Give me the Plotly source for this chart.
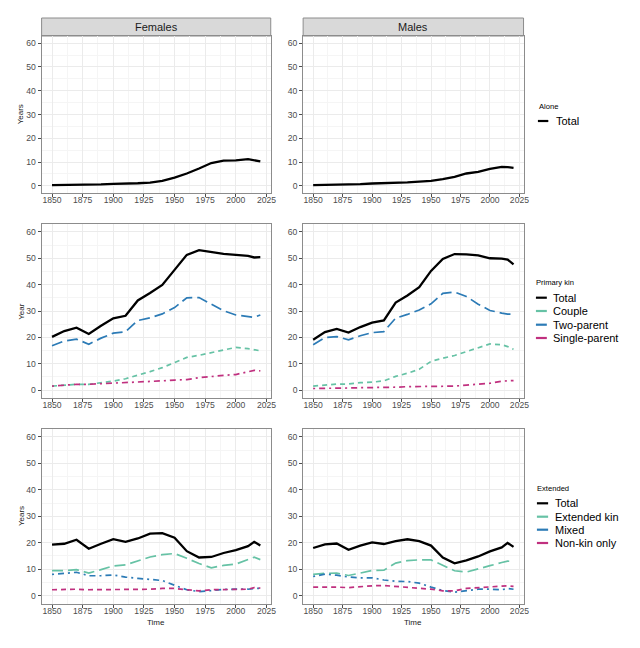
import plotly.graph_objects as go

years = [1850, 1860, 1870, 1880, 1890, 1900, 1910, 1920, 1930, 1940, 1950,
         1960, 1970, 1980, 1990, 2000, 2010, 2015, 2020]
sexes = ["Females", "Males"]
x_ticks = [1850, 1875, 1900, 1925, 1950, 1975, 2000, 2025]
y_ticks = [0, 10, 20, 30, 40, 50, 60]

# Row 1: Alone
alone_total_f = [0.3, 0.3, 0.4, 0.5, 0.6, 0.8, 0.8, 1.1, 1.4, 2.1, 3.5, 5.2, 7.3, 9.6, 10.6, 10.7, 11.2, 10.8, 10.3]
alone_total_m = [0.3, 0.35, 0.4, 0.5, 0.7, 1.0, 1.1, 1.3, 1.5, 1.8, 2.1, 2.8, 3.8, 5.2, 5.9, 7.1, 8.0, 7.9, 7.6]

# Row 2: Primary kin
prim_total_f = [20.2, 22.4, 23.7, 21.3, 24.4, 27.2, 28.2, 34.0, 36.8, 39.9, 45.6, 51.3, 53.1, 52.3, 51.7, 51.3, 50.9, 50.3, 50.4]
prim_couple_f = [1.5, 1.9, 2.2, 2.2, 2.8, 3.4, 4.3, 5.6, 7.0, 8.5, 10.5, 12.4, 13.2, 14.2, 15.4, 16.2, 15.7, 15.2, 14.9]
prim_two_f = [16.8, 18.6, 19.3, 17.4, 19.7, 21.6, 22.1, 26.4, 27.4, 28.9, 31.3, 35.0, 35.1, 32.7, 30.1, 28.5, 27.9, 27.6, 28.5]
prim_single_f = [1.5, 1.9, 2.2, 2.2, 2.4, 2.7, 2.8, 2.9, 3.2, 3.5, 3.8, 4.0, 4.7, 5.2, 5.6, 5.9, 7.1, 7.5, 7.3]

prim_total_m = [19.1, 22.0, 23.2, 21.8, 23.9, 25.6, 26.4, 33.2, 35.9, 39.0, 45.2, 49.7, 51.6, 51.5, 51.1, 50.0, 49.9, 49.5, 47.7]
prim_couple_m = [1.5, 2.0, 2.3, 2.3, 2.8, 3.0, 3.5, 5.2, 6.4, 7.9, 10.9, 12.1, 13.1, 14.6, 16.2, 17.5, 17.2, 16.5, 15.5]
prim_two_m = [17.2, 19.9, 20.3, 19.1, 20.6, 21.8, 22.2, 27.3, 28.7, 30.4, 32.7, 36.7, 37.2, 35.5, 32.6, 30.2, 29.2, 28.8, 28.8]
prim_single_m = [0.6, 0.6, 0.8, 0.8, 0.9, 0.9, 1.0, 1.1, 1.3, 1.4, 1.4, 1.4, 1.5, 1.9, 2.3, 2.6, 3.4, 3.5, 3.6]

# Row 3: Extended
ext_total_f = [19.3, 19.6, 21.1, 17.7, 19.6, 21.3, 20.3, 21.6, 23.4, 23.6, 21.9, 16.8, 14.4, 14.6, 16.1, 17.2, 18.7, 20.3, 18.9]
ext_kin_f = [9.4, 9.4, 9.8, 8.5, 9.8, 11.2, 11.6, 13.0, 14.6, 15.5, 15.9, 14.1, 12.1, 10.5, 11.4, 11.9, 13.6, 14.5, 13.6]
ext_mixed_f = [8.0, 8.3, 8.8, 7.5, 7.5, 7.8, 7.0, 6.5, 6.0, 5.7, 3.9, 2.2, 1.5, 2.0, 2.3, 2.4, 2.4, 2.7, 2.7]
ext_nonkin_f = [2.2, 2.3, 2.4, 2.2, 2.2, 2.4, 2.2, 2.2, 2.4, 2.7, 2.7, 2.2, 1.8, 2.2, 2.3, 2.4, 2.4, 3.0, 2.8]

ext_total_m = [18.0, 19.4, 19.7, 17.3, 18.9, 20.1, 19.5, 20.6, 21.3, 20.6, 18.9, 14.4, 12.2, 13.3, 14.8, 16.7, 18.2, 19.9, 18.4]
ext_kin_m = [8.0, 8.4, 8.5, 7.6, 8.5, 9.5, 9.6, 12.3, 13.2, 13.5, 13.5, 11.3, 9.4, 8.9, 10.0, 11.3, 12.5, 13.0, 12.9]
ext_mixed_m = [7.2, 8.1, 7.7, 7.0, 6.7, 6.7, 5.9, 5.4, 5.3, 4.7, 3.2, 1.9, 1.3, 1.8, 2.4, 2.4, 2.2, 2.7, 2.4]
ext_nonkin_m = [3.2, 3.3, 3.2, 3.0, 3.4, 3.7, 3.8, 3.5, 3.2, 2.7, 2.4, 1.8, 1.8, 2.7, 3.0, 3.2, 3.4, 3.7, 3.5]

W, H = 640, 648
FONT = "Liberation Sans, Arial, sans-serif"
BLACK = "#000000"
GREEN = "#66C2A5"
BLUE = "#2C7BB6"
MAGENTA = "#C0307F"
DASHED = "5px,4px"
LONGDASH = "11px,5px"
DOTDASH = "2px,4px,6px,4px"

# panel geometry in pixels (x0, x1) and (ytop, ybottom)
cols_px = [(42, 273.3), (306, 528.5)]
rows_px = [(36, 193), (224, 398), (429, 603.5)]

rows = [
    {"title": "Alone", "ylab": "Years",
     "series": [("Total", BLACK, "solid", 2.3, [alone_total_f, alone_total_m])]},
    {"title": "Primary kin", "ylab": "Year",
     "series": [("Total", BLACK, "solid", 2.3, [prim_total_f, prim_total_m]),
                ("Couple", GREEN, DASHED, 1.7, [prim_couple_f, prim_couple_m]),
                ("Two-parent", BLUE, LONGDASH, 1.7, [prim_two_f, prim_two_m]),
                ("Single-parent", MAGENTA, DOTDASH, 1.7, [prim_single_f, prim_single_m])]},
    {"title": "Extended", "ylab": "Years",
     "series": [("Total", BLACK, "solid", 2.3, [ext_total_f, ext_total_m]),
                ("Extended kin", GREEN, LONGDASH, 1.7, [ext_kin_f, ext_kin_m]),
                ("Mixed", BLUE, DOTDASH, 1.7, [ext_mixed_f, ext_mixed_m]),
                ("Non-kin only", MAGENTA, DASHED, 1.7, [ext_nonkin_f, ext_nonkin_m])]},
]

legend_px = [
    {"x": 542, "title_y": 106, "items_y": [121], "glyph": (543, 553.5), "text_x": 559},
    {"x": 539.5, "title_y": 282.7, "items_y": [297.7, 311, 324.7, 338], "glyph": (541, 552), "text_x": 556.5},
    {"x": 540.5, "title_y": 488, "items_y": [503.3, 516.7, 529.7, 543], "glyph": (542, 553.3), "text_x": 558},
]

fig = go.Figure()
layout = {}
shapes = []
annotations = []

def px2x(px):
    return px / W

def px2y(py):
    return 1 - py / H

idx = 0
for r, row in enumerate(rows):
    yt, yb = rows_px[r]
    for c in range(2):
        idx += 1
        sfx = "" if idx == 1 else str(idx)
        x0, x1 = cols_px[c]
        for name, color, dash, width, vals in row["series"]:
            fig.add_trace(go.Scatter(
                x=years, y=vals[c], mode="lines", name=name, showlegend=False,
                line=dict(color=color, dash=dash, width=width),
                xaxis="x" + sfx, yaxis="y" + sfx, hoverinfo="skip"))
        common = dict(showline=True, linecolor="#8C8C8C", linewidth=1, mirror=True,
                      ticks="outside", ticklen=3, tickcolor="#4D4D4D", tickwidth=0.8,
                      gridcolor="#EBEBEB", gridwidth=1, zeroline=False,
                      tickfont=dict(family=FONT, size=8.6, color="#4D4D4D"),
                      minor=dict(showgrid=True, gridcolor="#F5F5F5", gridwidth=0.6))
        layout["xaxis" + sfx] = dict(
            domain=[px2x(x0), px2x(x1)], anchor="y" + sfx, range=[1841.5, 2028.5],
            tickvals=x_ticks, minor_dtick=12.5, minor_tick0=1850,
            ticklabelstandoff=-4, **common)
        layout["yaxis" + sfx] = dict(
            domain=[px2y(yb), px2y(yt)], anchor="x" + sfx, range=[-3, 63],
            tickvals=y_ticks, minor_dtick=5, minor_tick0=0, **common)
    # y axis title
    annotations.append(dict(text=row["ylab"], x=px2x(21), y=px2y((yt + yb) / 2),
                            xref="paper", yref="paper", showarrow=False, textangle=-90,
                            font=dict(family=FONT, size=8, color="#1A1A1A"),
                            xanchor="center", yanchor="middle"))
    # legend (drawn manually)
    lg = legend_px[r]
    annotations.append(dict(text=row["title"], x=px2x(lg["x"]), y=px2y(lg["title_y"]),
                            xref="paper", yref="paper", showarrow=False,
                            font=dict(family=FONT, size=7.6, color="#000000"),
                            xanchor="left", yanchor="middle"))
    for (name, color, dash, width, vals), iy in zip(row["series"], lg["items_y"]):
        shapes.append(dict(type="line", xref="paper", yref="paper",
                           x0=px2x(lg["glyph"][0]), x1=px2x(lg["glyph"][1]),
                           y0=px2y(iy), y1=px2y(iy),
                           line=dict(color=color, width=2.2)))
        annotations.append(dict(text=name, x=px2x(lg["text_x"]), y=px2y(iy),
                                xref="paper", yref="paper", showarrow=False,
                                font=dict(family=FONT, size=11, color="#000000"),
                                xanchor="left", yanchor="middle"))

# strips on the first row
for c in range(2):
    x0, x1 = cols_px[c]
    shapes.append(dict(type="rect", xref="paper", yref="paper",
                       x0=px2x(x0), x1=px2x(x1), y0=px2y(36), y1=px2y(18),
                       fillcolor="#D9D9D9", line=dict(color="#8C8C8C", width=1),
                       layer="below"))
    annotations.append(dict(text=sexes[c], x=px2x((x0 + x1) / 2), y=px2y(27),
                            xref="paper", yref="paper", showarrow=False,
                            font=dict(family=FONT, size=11, color="#1A1A1A"),
                            xanchor="center", yanchor="middle"))
    # x axis title on bottom row
    annotations.append(dict(text="Time", x=px2x((x0 + x1) / 2), y=px2y(622),
                            xref="paper", yref="paper", showarrow=False,
                            font=dict(family=FONT, size=8, color="#1A1A1A"),
                            xanchor="center", yanchor="middle"))

fig.update_layout(
    width=W, height=H, margin=dict(l=0, r=0, t=0, b=0),
    paper_bgcolor="white", plot_bgcolor="white", showlegend=False,
    shapes=shapes, annotations=annotations, **layout)

fig.write_html("out.html", config={"displayModeBar": False},
               post_script="document.body.style.margin='0px';document.body.style.padding='0px';")
